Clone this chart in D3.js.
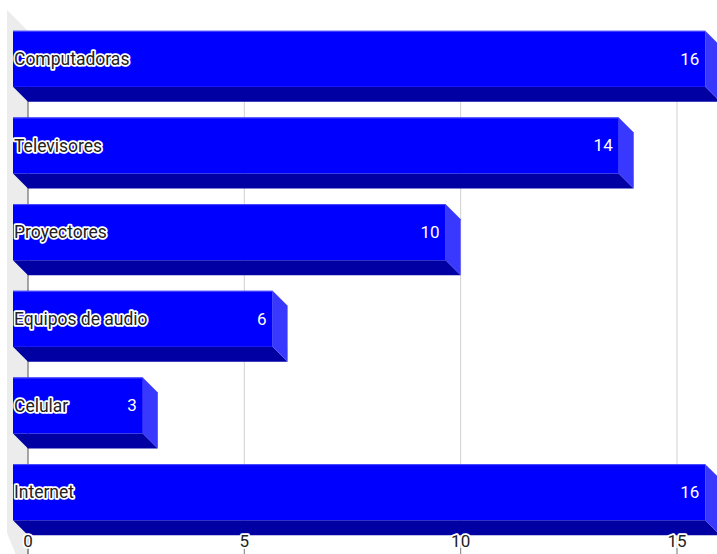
<!DOCTYPE html>
<html>
<head>
<meta charset="utf-8">
<script src="https://cdn.jsdelivr.net/npm/d3@7"></script>
<style>
  body { margin: 0; background: #fff; }
  svg { display: block; font-family: Roboto, "Liberation Sans", sans-serif; }
</style>
</head>
<body>
<div id="chart"></div>
<script>
// Data
const categories = ["Computadoras", "Televisores", "Proyectores", "Equipos de audio", "Celular", "Internet"];
const values = [16, 14, 10, 6, 3, 16];
const xTicks = [0, 5, 10, 15];

// Layout
const w = 717;
const h = 554;
const depth = 15;           // 3D offset of the bars
const wallDepth = 21;       // 3D offset of the left wall
const p = { left: 28, top: 23, bottom: 543 };

const data = categories.map((c, i) => ({ name: c, value: values[i] }));

// Scales (x is in the back plane, front faces are shifted by -depth)
const xScale = d3.scaleLinear().domain([0, 15]).range([p.left, 677]);
const yScale = d3.scaleBand()
    .domain(categories)
    .range([p.top, p.bottom])
    .paddingInner(0.18)
    .paddingOuter(0.09);
const faceH = yScale.bandwidth() - depth;

const svg = d3.select("#chart")
    .append("svg")
    .attr("width", w)
    .attr("height", h);

// Left wall
const wallTop = 10;
svg.append("polygon")
    .attr("points", [
        [p.left - wallDepth, wallTop],
        [p.left, wallTop + wallDepth],
        [p.left, h + 30],
        [p.left - wallDepth, h - wallDepth]
    ].map(d => d.join(",")).join(" "))
    .attr("fill", "#ececec");

// Grid lines
svg.append("g")
    .selectAll("line")
    .data(xTicks.filter(d => d > 0))
    .enter()
    .append("line")
    .attr("x1", d => xScale(d))
    .attr("x2", d => xScale(d))
    .attr("y1", wallTop + wallDepth)
    .attr("y2", h)
    .attr("stroke", "#d0d0d0")
    .attr("stroke-width", 1);

// Value axis line
svg.append("line")
    .attr("x1", xScale(0))
    .attr("x2", xScale(0))
    .attr("y1", wallTop + wallDepth)
    .attr("y2", h)
    .attr("stroke", "#888")
    .attr("stroke-width", 1.5);

// Bars
const bars = svg.append("g")
    .selectAll("g")
    .data(data)
    .enter()
    .append("g");

const x0 = xScale(0) - depth;
bars.each(function (d) {
    const g = d3.select(this);
    const top = yScale(d.name);
    const x1 = xScale(d.value) - depth;
    // bottom face
    g.append("polygon")
        .attr("points", [
            [x0, top + faceH], [x1, top + faceH],
            [x1 + depth, top + faceH + depth], [x0 + depth, top + faceH + depth]
        ].map(q => q.join(",")).join(" "))
        .attr("fill", "#0000a3");
    // side face
    g.append("polygon")
        .attr("points", [
            [x1, top], [x1 + depth, top + depth],
            [x1 + depth, top + faceH + depth], [x1, top + faceH]
        ].map(q => q.join(",")).join(" "))
        .attr("fill", "#3838ff");
    // front face
    g.append("rect")
        .attr("x", x0)
        .attr("y", top)
        .attr("width", x1 - x0)
        .attr("height", faceH)
        .attr("fill", "#0000ff");
    g.append("line")
        .attr("x1", x0).attr("x2", x1)
        .attr("y1", top + 0.5).attr("y2", top + 0.5)
        .attr("stroke", "#4d4dff")
        .attr("stroke-width", 1);
});

// Value labels
bars.append("text")
    .attr("x", d => xScale(d.value) - depth - 6)
    .attr("y", d => yScale(d.name) + faceH / 2)
    .attr("dy", "0.35em")
    .attr("text-anchor", "end")
    .attr("fill", "#fff")
    .style("font-size", "17px")
    .text(d => d.value);

// Category labels with halo
bars.append("text")
    .attr("x", x0 + 1)
    .attr("y", d => yScale(d.name) + faceH / 2)
    .attr("dy", "0.35em")
    .attr("fill", "#222")
    .attr("stroke", "#fff")
    .attr("stroke-width", 3.5)
    .attr("stroke-linejoin", "round")
    .attr("paint-order", "stroke")
    .style("font-size", "17.5px")
    .text(d => d.name);

// Value axis ticks
const axis = svg.append("g");
axis.selectAll("line")
    .data(xTicks)
    .enter()
    .append("line")
    .attr("x1", d => xScale(d))
    .attr("x2", d => xScale(d))
    .attr("y1", 548)
    .attr("y2", h)
    .attr("stroke", "#888");
axis.selectAll("text")
    .data(xTicks)
    .enter()
    .append("text")
    .attr("x", d => xScale(d))
    .attr("y", 541)
    .attr("dy", "0.35em")
    .attr("text-anchor", "middle")
    .attr("fill", "#222")
    .attr("stroke", "#fff")
    .attr("stroke-width", 3.5)
    .attr("stroke-linejoin", "round")
    .attr("paint-order", "stroke")
    .style("font-size", "17px")
    .text(d => d);
</script>
</body>
</html>
